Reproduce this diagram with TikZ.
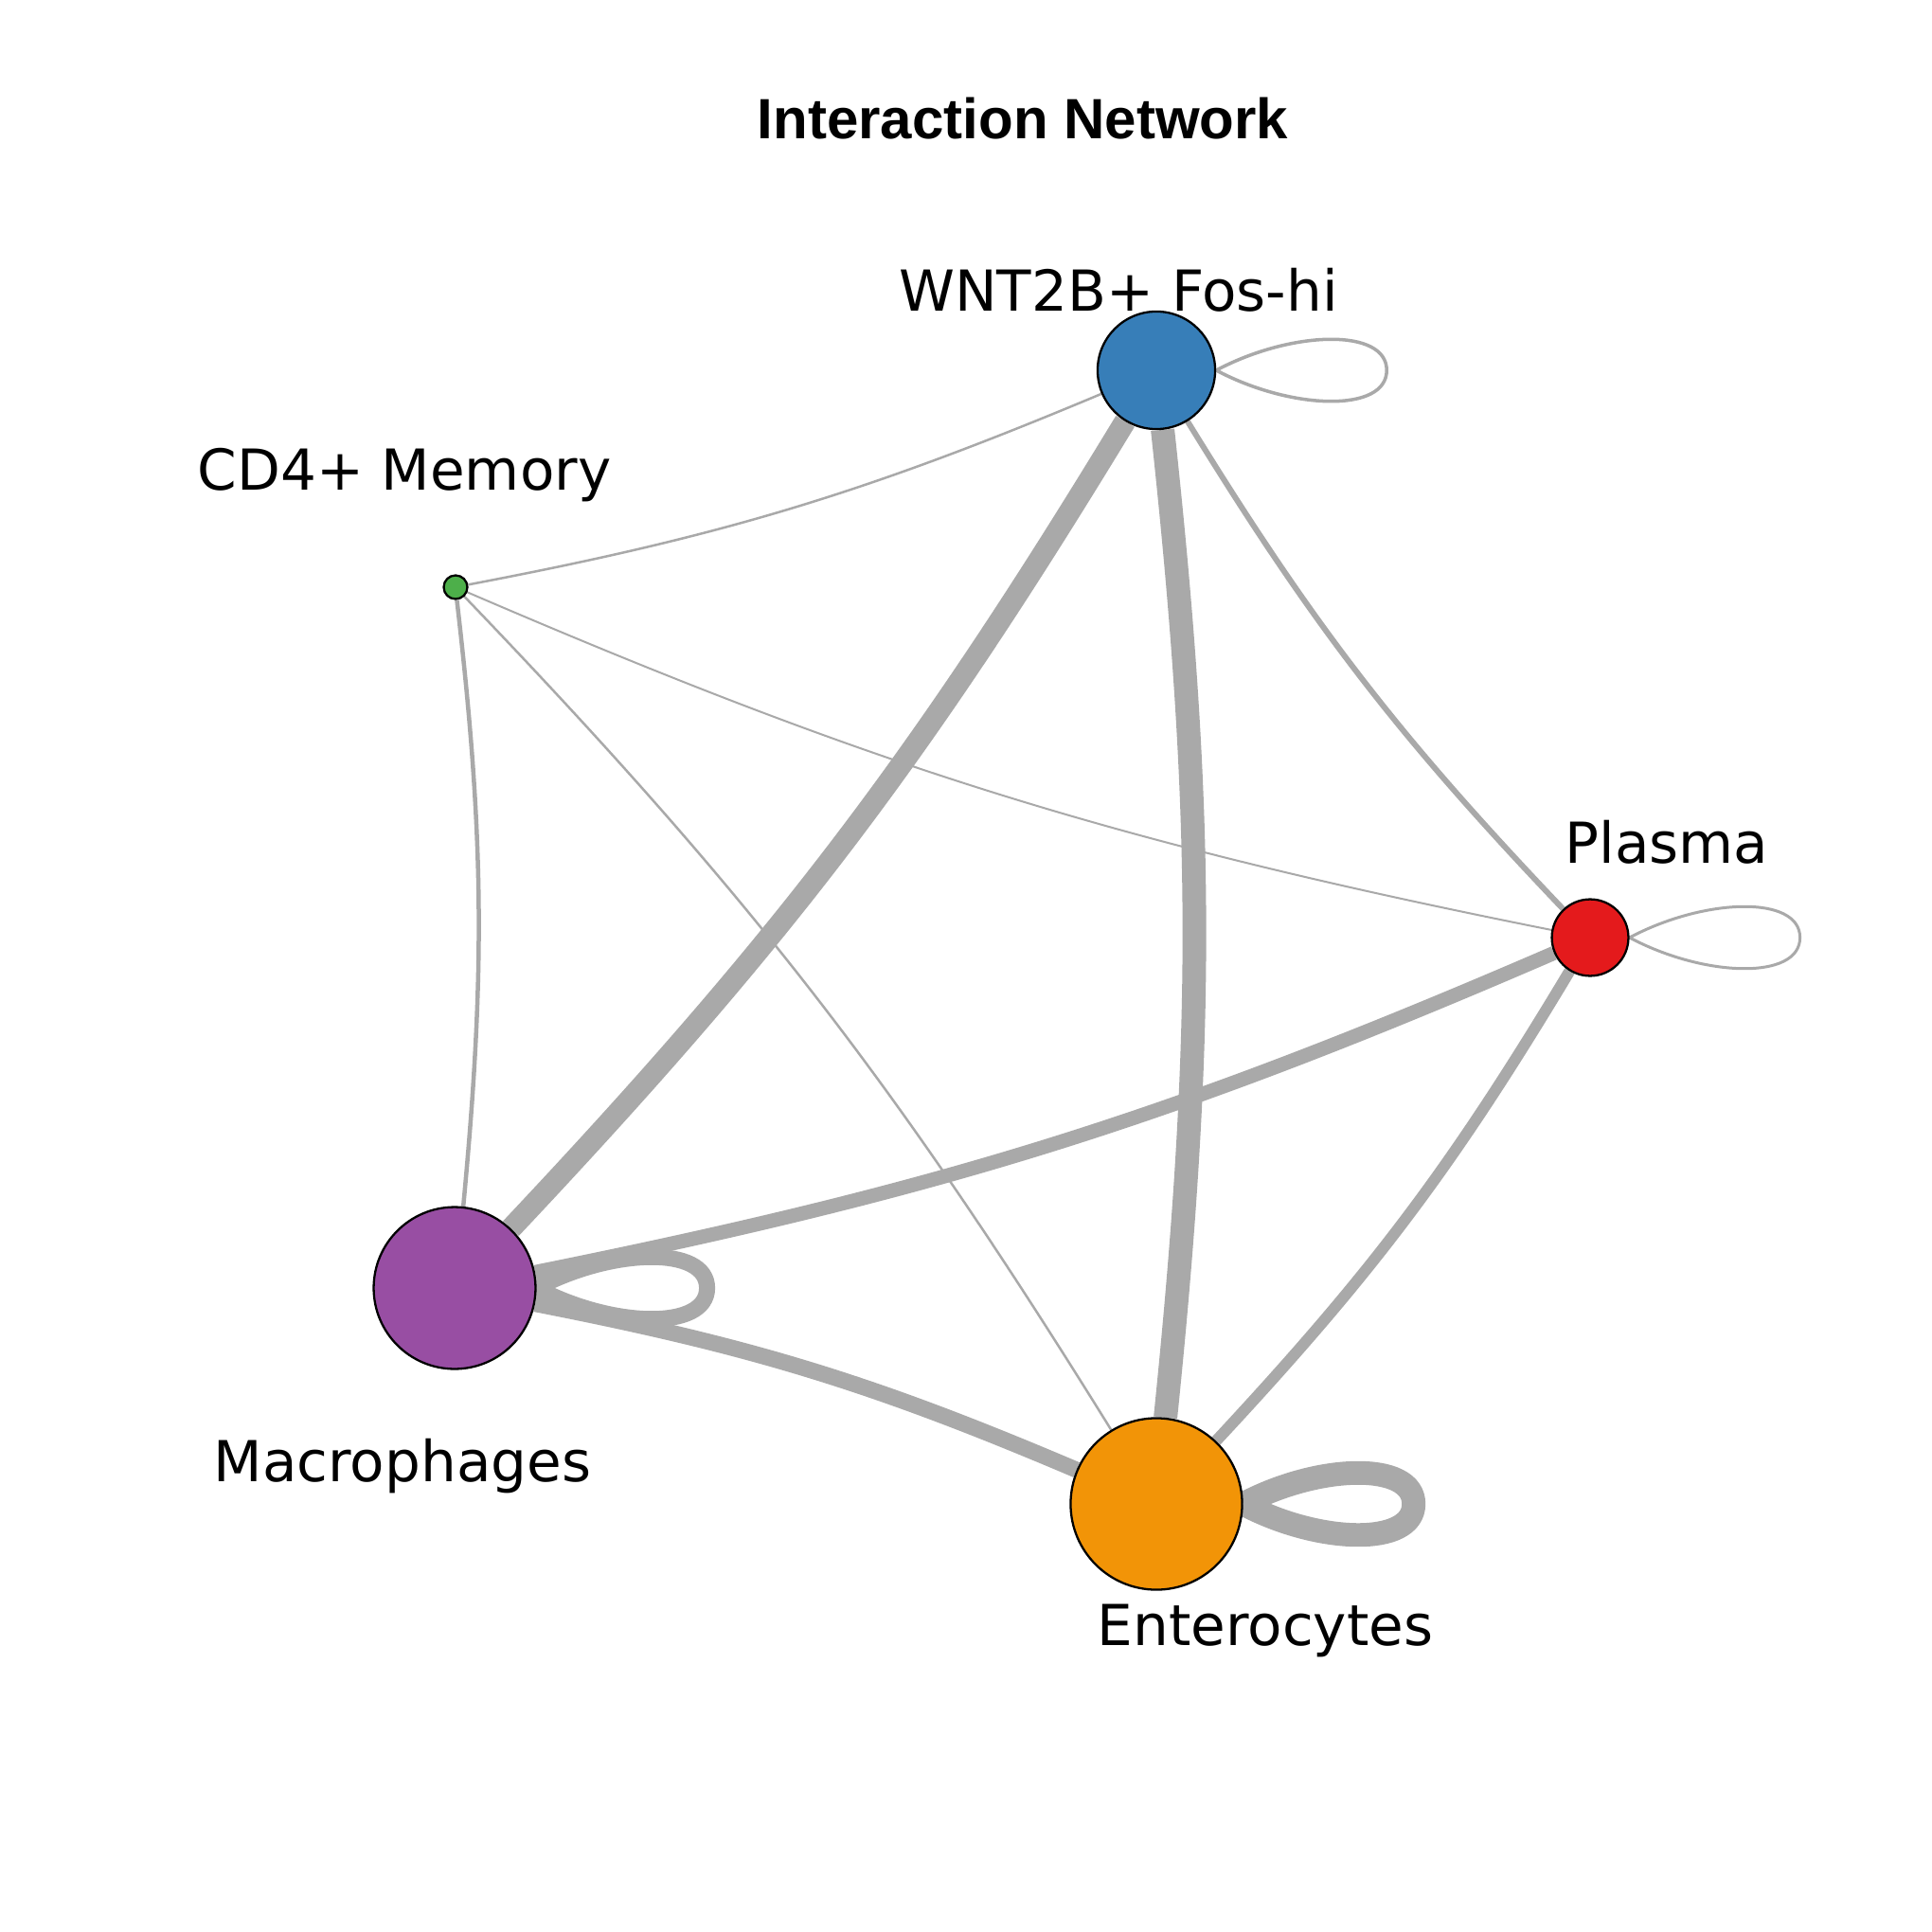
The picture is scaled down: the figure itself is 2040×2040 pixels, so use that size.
\documentclass[tikz,border=0pt]{standalone}
\usepackage{fontspec}
\usepackage{xcolor}
\usepackage{tikz}
\usetikzlibrary{positioning}
\newfontfamily\netfont{DejaVu Sans}
\newfontfamily\headfont{Liberation Sans}
\definecolor{linkgray}{HTML}{A9A9A9}
\definecolor{wntblue}{HTML}{377EB8}
\definecolor{cdgreen}{HTML}{4DAF4A}
\definecolor{plasmared}{HTML}{E41A1C}
\definecolor{macpurple}{HTML}{984EA3}
\definecolor{entorange}{HTML}{F29407}
\pgfdeclarelayer{edges}
\pgfsetlayers{edges,main}

\begin{document}
\begin{tikzpicture}[x=0.01cm, y=0.01cm,
                    cell/.style={circle, draw=black, line width=0.65pt, inner sep=0pt},
                    link/.style={linkgray, bend left=6},
                    selfloop/.style={linkgray, line join=round},
                    celllabel/.style={anchor=base, inner sep=0pt, font=\netfont\fontsize{16.95}{20}\selectfont},
                   ]

\useasboundingbox (0,0) rectangle (2040,-2040);

\node[anchor=base, inner sep=0pt, font=\headfont\bfseries\fontsize{17.07}{20}\selectfont] (title) at (1080,-147) {Interaction Network};

% cells
\node[cell, fill=wntblue, minimum size=35.3pt] (wnt) at (1221,-391) {};
\node[cell, fill=cdgreen, minimum size=7.1pt] (cd4) at (481,-620) {};
\node[cell, fill=plasmared, minimum size=23pt] (plasma) at (1679,-990) {};
\node[cell, fill=macpurple, minimum size=48.6pt] (mac) at (480,-1360) {};
\node[cell, fill=entorange, minimum size=51.5pt] (ent) at (1221,-1588) {};

\node[celllabel] (wntname) at (1181,-329) {WNT2B+ Fos-hi};
\node[celllabel] (cd4name) at (427,-518) {CD4+ Memory};
\node[celllabel] (plasmaname) at (1760,-911) {Plasma};
\node[celllabel] (macname) at (425,-1564) {Macrophages};
\node[celllabel] (entname) at (1336,-1737) {Enterocytes};

\begin{pgfonlayer}{edges}
\fill[white] (0,0) rectangle (2040,-2040);
\draw[link, line width=1.7pt] (plasma) to (wnt);
\draw[link, line width=0.57pt] (plasma) to (cd4);
\draw[link, line width=4.27pt] (plasma) to (mac);
\draw[link, line width=3.4pt] (plasma) to (ent);
\draw[link, line width=0.71pt] (wnt) to (cd4);
\draw[link, line width=6.5pt] (wnt) to (mac);
\draw[link, line width=7.1pt] (wnt) to (ent);
\draw[link, line width=1.28pt] (cd4) to (mac);
\draw[link, line width=0.71pt] (cd4) to (ent);
\draw[link, line width=4.84pt] (mac) to (ent);

% self loops
\draw[selfloop, line width=1pt] (wnt.east) to[out=28, in=90, out distance=25.6pt, in distance=12.8pt] ++(180,0)
      to[out=-90, in=-28, out distance=12.8pt, in distance=25.6pt] (wnt.east);
\draw[selfloop, line width=0.85pt] (plasma.east) to[out=28, in=90, out distance=25.6pt, in distance=12.8pt] ++(180,0)
      to[out=-90, in=-28, out distance=12.8pt, in distance=25.6pt] (plasma.east);
\draw[selfloop, line width=4.84pt] (mac.east) to[out=28, in=90, out distance=25.6pt, in distance=12.8pt] ++(180,0)
      to[out=-90, in=-28, out distance=12.8pt, in distance=25.6pt] (mac.east);
\draw[selfloop, line width=7.1pt] (ent.east) to[out=28, in=90, out distance=25.6pt, in distance=12.8pt] ++(180,0)
      to[out=-90, in=-28, out distance=12.8pt, in distance=25.6pt] (ent.east);
\end{pgfonlayer}

\end{tikzpicture}
\end{document}
